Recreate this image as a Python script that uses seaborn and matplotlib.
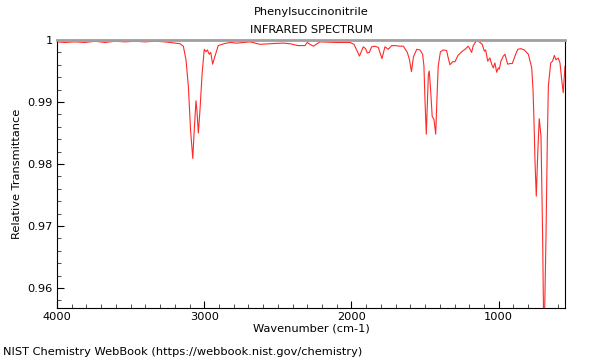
import matplotlib
matplotlib.use("Agg")
import matplotlib.pyplot as plt
import matplotlib.ticker as ticker
import seaborn as sns

# spectrum (wavenumber in cm-1, relative transmittance)
wavenumber = [4000, 3946, 3878, 3810, 3742, 3674, 3606, 3538, 3470, 3402, 3334, 3267,
              3199, 3165, 3142, 3124, 3108, 3093, 3078, 3066, 3056, 3050, 3040, 3029,
              3015, 3000, 2988, 2979, 2966, 2956, 2943, 2927, 2905, 2866, 2825, 2780,
              2737, 2689, 2621, 2554, 2465, 2418, 2363, 2316, 2300, 2282, 2259, 2214,
              2101, 2010, 1983, 1961, 1946, 1920, 1904, 1893, 1879, 1863, 1840, 1818,
              1803, 1793, 1773, 1750, 1727, 1705, 1671, 1648, 1621, 1606, 1593, 1579,
              1557, 1535, 1517, 1508, 1501, 1492, 1484, 1478, 1472, 1463, 1452, 1440,
              1428, 1420, 1411, 1396, 1377, 1354, 1345, 1331, 1313, 1297, 1277, 1252,
              1229, 1207, 1195, 1184, 1173, 1157, 1144, 1127, 1112, 1098, 1089, 1075,
              1060, 1048, 1037, 1026, 1014, 1003, 996, 985, 969, 958, 939, 924,
              908, 890, 871, 849, 827, 799, 776, 767, 761, 754, 745, 735,
              725, 713, 702, 693, 679, 670, 663, 647, 634, 623, 611, 596,
              584, 573, 562, 550]
transmittance = [0.9997, 0.9996, 0.9997, 0.9996, 0.9998, 0.9996, 0.9998, 0.9997, 0.9998, 0.9997, 0.9998, 0.9997,
                 0.9995, 0.9994, 0.9990, 0.9968, 0.9926, 0.9855, 0.9809, 0.9863, 0.9902, 0.9887, 0.9850, 0.9887,
                 0.9944, 0.9985, 0.9981, 0.9984, 0.9977, 0.9980, 0.9961, 0.9974, 0.9991, 0.9994, 0.9996, 0.9995,
                 0.9996, 0.9997, 0.9993, 0.9994, 0.9995, 0.9994, 0.9991, 0.9991, 0.9996, 0.9993, 0.9990, 0.9997,
                 0.9996, 0.9996, 0.9993, 0.9982, 0.9974, 0.9989, 0.9986, 0.9979, 0.9980, 0.9989, 0.9990, 0.9988,
                 0.9977, 0.9970, 0.9989, 0.9985, 0.9991, 0.9991, 0.9990, 0.9990, 0.9980, 0.9968, 0.9949, 0.9973,
                 0.9985, 0.9984, 0.9977, 0.9958, 0.9903, 0.9848, 0.9903, 0.9944, 0.9950, 0.9921, 0.9877, 0.9872,
                 0.9848, 0.9903, 0.9958, 0.9981, 0.9984, 0.9983, 0.9973, 0.9960, 0.9965, 0.9965, 0.9975, 0.9981,
                 0.9985, 0.9990, 0.9985, 0.9980, 0.9991, 0.9997, 0.9999, 0.9996, 0.9993, 0.9982, 0.9984, 0.9966,
                 0.9971, 0.9961, 0.9955, 0.9963, 0.9948, 0.9955, 0.9953, 0.9966, 0.9974, 0.9977, 0.9961, 0.9962,
                 0.9962, 0.9974, 0.9985, 0.9986, 0.9984, 0.9977, 0.9955, 0.9919, 0.9873, 0.9806, 0.9748, 0.9818,
                 0.9873, 0.9845, 0.9684, 0.9500, 0.9684, 0.9839, 0.9926, 0.9963, 0.9966, 0.9975, 0.9968, 0.9971,
                 0.9963, 0.9937, 0.9915, 0.9958]

x_ticks = [4000, 3000, 2000, 1000]
y_ticks = [0.96, 0.97, 0.98, 0.99, 1.0]

sns.set_style("white")
plt.rcParams['font.family'] = ['DejaVu Sans']
plt.rcParams['text.color'] = 'black'
plt.rcParams['axes.labelcolor'] = 'black'

fig = plt.figure(figsize=(6, 3.6), dpi=100)
ax = fig.add_axes([57 / 600, 1 - 308 / 360, 508 / 600, 268 / 360])

sns.lineplot(x=wavenumber, y=transmittance, sort=False, estimator=None,
             color="#ff2a2a", linewidth=0.8, ax=ax)

ax.set_xlim(4000, 550)
ax.set_ylim(0.95677, 1.0)
ax.set_xticks(x_ticks)
ax.set_yticks(y_ticks)
ax.xaxis.set_minor_locator(ticker.MultipleLocator(100))
ax.yaxis.set_minor_locator(ticker.MultipleLocator(0.002))
ax.yaxis.set_major_formatter(ticker.FuncFormatter(lambda v, p: "{:g}".format(round(v, 3))))

ax.tick_params(which="major", direction="in", length=5, width=0.8, pad=3,
               labelsize=8.2, colors="black")
ax.tick_params(which="minor", direction="in", length=3, width=0.6, colors="#333333")
ax.tick_params(axis="x", which="both", bottom=True, top=False)
ax.tick_params(axis="y", which="both", left=True, right=False)

for side in ["left", "bottom", "right"]:
    ax.spines[side].set_color("black")
    ax.spines[side].set_linewidth(0.8)
ax.spines["top"].set_color("#a0a0a0")
ax.spines["top"].set_linewidth(2.0)

ax.set_xlabel("Wavenumber (cm-1)", fontsize=8.2, labelpad=1)
ax.set_ylabel("Relative Transmittance", fontsize=8.2, labelpad=4)

fig.text(311 / 600, 1 - 12 / 360, "Phenylsuccinonitrile", ha="center", va="center", fontsize=8.2)
fig.text(311 / 600, 1 - 30 / 360, "INFRARED SPECTRUM", ha="center", va="center", fontsize=8.2)
fig.text(3 / 600, 1 - 352 / 360, "NIST Chemistry WebBook (https://webbook.nist.gov/chemistry)",
         ha="left", va="center", fontsize=8.2)

fig.savefig("out.png", dpi=100)
